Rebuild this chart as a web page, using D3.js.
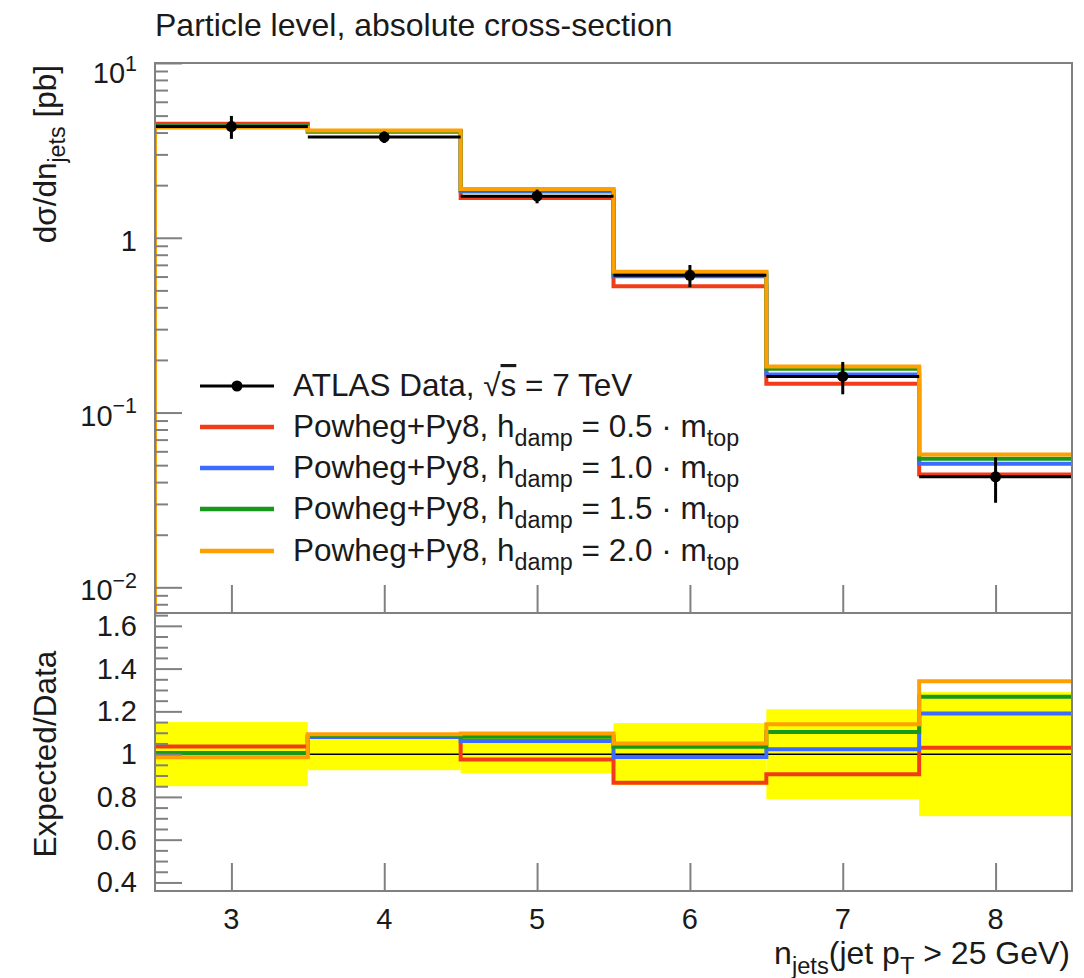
<!DOCTYPE html>
<html lang="en">
<head>
<meta charset="UTF-8">
<title>Particle level, absolute cross-section</title>
<script src="https://d3js.org/d3.v7.min.js"></script>
<style>
  body { margin: 0; background: #fff; }
  svg text { font-family: "Liberation Sans", Arial, Helvetica, sans-serif; fill: #1a1a1a; }
</style>
</head>
<body>
<svg id="chart" width="1084" height="978"></svg>
<script>
// n_jets bins
const nJets = [3, 4, 5, 6, 7, 8];
const binEdges = [2.5, 3.5, 4.5, 5.5, 6.5, 7.5, 8.5];

// ATLAS data [pb] and relative uncertainty (yellow band)
const dataXsec = [4.33, 3.77, 1.73, 0.61, 0.161, 0.0429];
const dataRelErr = [0.15, 0.075, 0.09, 0.145, 0.21, 0.29];

// Powheg+Py8 predictions [pb]
const hdamp05 = [4.49, 4.06, 1.69, 0.528, 0.146, 0.0442];
const hdamp10 = [4.35, 4.06, 1.84, 0.602, 0.165, 0.0510];
const hdamp15 = [4.35, 4.07, 1.87, 0.630, 0.178, 0.0544];
const hdamp20 = [4.27, 4.11, 1.90, 0.640, 0.1835, 0.0575];

// Expected/Data
const ratio05 = [1.036, 1.080, 0.975, 0.866, 0.906, 1.030];
const ratio10 = [1.005, 1.080, 1.062, 0.987, 1.023, 1.190];
const ratio15 = [1.005, 1.085, 1.081, 1.034, 1.104, 1.268];
const ratio20 = [0.986, 1.093, 1.097, 1.050, 1.140, 1.341];

const hdampLabels = ["0.5", "1.0", "1.5", "2.0"];
const colors = ["#f23c18", "#3d6bff", "#16991a", "#ffa000"];

// tick labels
const logMajor = [10, 1, 0.1, 0.01];
const logLabels = [["10", "1"], ["1", ""], ["10", "\u22121"], ["10", "\u22122"]];
const ratioMajor = [0.4, 0.6, 0.8, 1.0, 1.2, 1.4, 1.6];
const ratioLabels = ["0.4", "0.6", "0.8", "1", "1.2", "1.4", "1.6"];

const series = [
  { hdamp: hdampLabels[0], color: colors[0], top: hdamp05, ratio: ratio05 },
  { hdamp: hdampLabels[1], color: colors[1], top: hdamp10, ratio: ratio10 },
  { hdamp: hdampLabels[2], color: colors[2], top: hdamp15, ratio: ratio15 },
  { hdamp: hdampLabels[3], color: colors[3], top: hdamp20, ratio: ratio20 }
];

// layout
const left = 155, right = 1072;
const topY = 63, splitY = 613, bottomY = 891;
const fs = 29;      // tick labels
const fsTitle = 31.5; // axis titles, legend
const axisColor = "#808080";

const svg = d3.select("#chart");

const x = d3.scaleLinear().domain([2.5, 8.5]).range([left, right]);
const yTop = d3.scaleLog().domain([0.00713, 10]).range([splitY, topY]);
const yRat = d3.scaleLinear().domain([0.36, 1.66]).range([bottomY, splitY]);

const defs = svg.append("defs");
defs.append("clipPath").attr("id", "clipTop").append("rect")
  .attr("x", left).attr("y", topY).attr("width", right - left).attr("height", splitY - topY);
defs.append("clipPath").attr("id", "clipRat").append("rect")
  .attr("x", left).attr("y", splitY).attr("width", right - left).attr("height", bottomY - splitY);

// text with sub/superscripts: parts = [[text, "sub"|"sup"|null], ...]
function richText(sel, parts, size) {
  let shift = 0;
  parts.forEach(([t, kind]) => {
    const target = kind === "sub" ? 0.3 * size : kind === "sup" ? -0.42 * size : 0;
    sel.append("tspan")
      .attr("dy", target - shift)
      .attr("font-size", kind ? size * 0.74 : size)
      .text(t);
    shift = target;
  });
  return sel;
}

function stepPoints(vals, startVal) {
  const pts = nJets.map((n, i) => [binEdges[i], vals[i]]);
  pts.push([binEdges[binEdges.length - 1], vals[vals.length - 1]]);
  if (startVal !== undefined) pts.unshift([binEdges[0], startVal]);
  return pts;
}

// ---------- top panel ----------
const gTop = svg.append("g").attr("clip-path", "url(#clipTop)");
const lineTop = d3.line().x(d => x(d[0])).y(d => yTop(d[1])).curve(d3.curveStepAfter);

series.forEach(s => {
  gTop.append("path")
    .attr("d", lineTop(stepPoints(s.top, yTop.domain()[0])))
    .attr("fill", "none")
    .attr("stroke", s.color)
    .attr("stroke-width", 4);
});

// data: horizontal bin bars, error bars, markers
nJets.forEach((n, i) => {
  const v = dataXsec[i], e = dataRelErr[i] * v;
  gTop.append("line")
    .attr("x1", x(binEdges[i])).attr("x2", x(binEdges[i + 1]))
    .attr("y1", yTop(v)).attr("y2", yTop(v))
    .attr("stroke", "#000").attr("stroke-width", 3);
  gTop.append("line")
    .attr("x1", x(n)).attr("x2", x(n))
    .attr("y1", yTop(v + e)).attr("y2", yTop(v - e))
    .attr("stroke", "#000").attr("stroke-width", 3);
  gTop.append("circle")
    .attr("cx", x(n)).attr("cy", yTop(v)).attr("r", 5.5)
    .attr("fill", "#000");
});

// ---------- ratio panel ----------
const gRat = svg.append("g").attr("clip-path", "url(#clipRat)");

gRat.selectAll(".band")
  .data(nJets)
  .enter().append("rect")
  .attr("class", "band")
  .attr("x", (d, i) => x(binEdges[i]))
  .attr("width", (d, i) => x(binEdges[i + 1]) - x(binEdges[i]))
  .attr("y", (d, i) => yRat(1 + dataRelErr[i]))
  .attr("height", (d, i) => yRat(1 - dataRelErr[i]) - yRat(1 + dataRelErr[i]))
  .attr("fill", "#ffff00");

gRat.append("line")
  .attr("x1", x(2.5)).attr("x2", x(8.5))
  .attr("y1", yRat(1)).attr("y2", yRat(1))
  .attr("stroke", "#000").attr("stroke-width", 1.5);

const lineRat = d3.line().x(d => x(d[0])).y(d => yRat(d[1])).curve(d3.curveStepAfter);
series.forEach(s => {
  gRat.append("path")
    .attr("d", lineRat(stepPoints(s.ratio)))
    .attr("fill", "none")
    .attr("stroke", s.color)
    .attr("stroke-width", 4);
});

// ---------- axes / frames ----------
function styleAxis(g) {
  g.attr("color", axisColor);
  g.select(".domain").remove();
  g.selectAll("line").attr("stroke-width", 2);
}

const minorLog = yTop.ticks().filter(v => !logMajor.some(m => Math.abs(m - v) / m < 1e-6));
svg.append("g").attr("transform", `translate(${left},0)`)
  .call(d3.axisRight(yTop).tickValues(minorLog).tickSize(13).tickFormat(""))
  .call(styleAxis);
svg.append("g").attr("transform", `translate(${left},0)`)
  .call(d3.axisRight(yTop).tickValues(logMajor).tickSize(27).tickFormat(""))
  .call(styleAxis);

const ratioMinor = d3.range(0.4, 1.66, 0.05).filter(v => !ratioMajor.some(m => Math.abs(m - v) < 1e-6));
svg.append("g").attr("transform", `translate(${left},0)`)
  .call(d3.axisRight(yRat).tickValues(ratioMinor).tickSize(13).tickFormat(""))
  .call(styleAxis);
svg.append("g").attr("transform", `translate(${left},0)`)
  .call(d3.axisRight(yRat).tickValues(ratioMajor).tickSize(27).tickFormat(""))
  .call(styleAxis);

[splitY, bottomY].forEach(yy => {
  svg.append("g").attr("transform", `translate(0,${yy})`)
    .call(d3.axisTop(x).tickValues(nJets).tickSize(28).tickFormat(""))
    .call(styleAxis);
});

[[topY, splitY], [splitY, bottomY]].forEach(([a, b]) => {
  svg.append("rect")
    .attr("x", left).attr("y", a)
    .attr("width", right - left).attr("height", b - a)
    .attr("fill", "none").attr("stroke", axisColor).attr("stroke-width", 2);
});

// ---------- labels ----------
logMajor.forEach((v, i) => {
  const t = svg.append("text")
    .attr("x", 137).attr("y", yTop(v) + 10 + (i === 0 ? 10 : 3))
    .attr("text-anchor", "end");
  richText(t, [[logLabels[i][0], null], [logLabels[i][1], "sup"]], fs);
});

ratioMajor.forEach((v, i) => {
  svg.append("text")
    .attr("x", 137).attr("y", yRat(v) + 10)
    .attr("text-anchor", "end")
    .attr("font-size", fs)
    .text(ratioLabels[i]);
});

nJets.forEach(n => {
  svg.append("text")
    .attr("x", x(n)).attr("y", 929)
    .attr("text-anchor", "middle")
    .attr("font-size", fs)
    .text(n);
});

svg.append("text")
  .attr("x", 155).attr("y", 36)
  .attr("font-size", 32)
  .text("Particle level, absolute cross-section");

richText(svg.append("text")
  .attr("transform", `translate(56,${topY + 2}) rotate(-90)`)
  .attr("text-anchor", "end"),
  [["d\u03c3/dn", null], ["jets", "sub"], [" [pb]", null]], fsTitle);

svg.append("text")
  .attr("transform", `translate(56,${yRat(1)}) rotate(-90)`)
  .attr("text-anchor", "middle")
  .attr("font-size", fsTitle)
  .text("Expected/Data");

richText(svg.append("text")
  .attr("x", 1070).attr("y", 964)
  .attr("text-anchor", "end"),
  [["n", null], ["jets", "sub"], ["(jet p", null], ["T", "sub"], [" > 25 GeV)", null]], 32);

// ---------- legend ----------
const legendY = [386, 427, 468, 509, 551];
const lx1 = 200, lx2 = 274, ltx = 293;

const gLeg = svg.append("g");
gLeg.append("line")
  .attr("x1", lx1).attr("x2", lx2).attr("y1", legendY[0]).attr("y2", legendY[0])
  .attr("stroke", "#000").attr("stroke-width", 3);
gLeg.append("circle")
  .attr("cx", (lx1 + lx2) / 2).attr("cy", legendY[0]).attr("r", 5.5).attr("fill", "#000");
const dataLabel = gLeg.append("text")
  .attr("x", ltx).attr("y", legendY[0] + 10)
  .attr("font-size", fsTitle);
dataLabel.append("tspan").text("ATLAS Data, \u221a");
dataLabel.append("tspan").style("text-decoration", "overline").text("s");
dataLabel.append("tspan").text(" = 7 TeV");

series.forEach((s, i) => {
  const yy = legendY[i + 1];
  gLeg.append("line")
    .attr("x1", lx1).attr("x2", lx2).attr("y1", yy).attr("y2", yy)
    .attr("stroke", s.color).attr("stroke-width", 4.5);
  richText(gLeg.append("text").attr("x", ltx).attr("y", yy + 10),
    [["Powheg+Py8, h", null], ["damp", "sub"], [` = ${s.hdamp} \u00b7 m`, null], ["top", "sub"]], fsTitle);
});
</script>
</body>
</html>
